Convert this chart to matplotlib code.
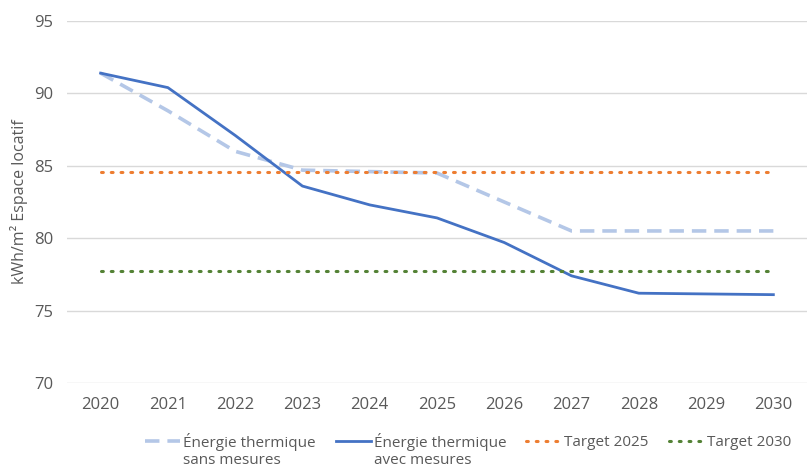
import matplotlib.pyplot as plt
from matplotlib.legend_handler import HandlerLine2D
import numpy as np

years = ["2020", "2021", "2022", "2023", "2024", "2025", "2026", "2027", "2028", "2029", "2030"]
sans_mesures = [91.4, 88.8, 86.0, 84.7, 84.6, 84.5, 82.5, 80.5, 80.5, 80.5, 80.5]
avec_mesures = [91.4, 90.4, 87.1, 83.6, 82.3, 81.4, 79.7, 77.4, 76.2, 76.15, 76.1]
target_2025 = [84.6] * 11
target_2030 = [77.7] * 11

plt.rcParams['font.family'] = ['Open Sans', 'DejaVu Sans']
gray = "#595959"


# legend handle drawn on the first text line instead of the middle
class UpHandler(HandlerLine2D):
    def create_artists(self, legend, orig_handle, xdescent, ydescent, width, height, fontsize, trans):
        arts = super().create_artists(legend, orig_handle, xdescent, ydescent, width, height, fontsize, trans)
        for a in arts:
            a.set_ydata(np.asarray(a.get_ydata()) + 0.62 * fontsize)
        return arts


fig = plt.figure(figsize=(8.07, 4.72), dpi=100)
ax = fig.add_axes([0.083, 0.1886, 0.917, 0.7669])
x = np.arange(len(years))

ax.plot(x, sans_mesures, color="#b4c7e7", lw=2.6, dashes=(4, 2.2), label="Énergie thermique\nsans mesures")
ax.plot(x, avec_mesures, color="#4472c4", lw=2.0, label="Énergie thermique\navec mesures")
ax.plot(x, target_2025, color="#ed7d31", lw=2.2, dashes=(0.6, 2.6), dash_capstyle="round", label="Target 2025\n ")
ax.plot(x, target_2030, color="#548235", lw=2.2, dashes=(0.6, 2.6), dash_capstyle="round", label="Target 2030\n ")

ax.set_xlim(-0.5, 10.5)
ax.set_ylim(70, 95)
ax.set_yticks([70, 75, 80, 85, 90, 95])
ax.set_xticks(x)
ax.set_xticklabels(years)
ax.grid(axis="y", color="#d9d9d9", lw=1)
ax.set_axisbelow(True)
for s in ax.spines.values():
    s.set_visible(False)
ax.tick_params(length=0, labelsize=12, colors=gray, pad=10)
ax.set_ylabel("kWh/m² Espace locatif", fontsize=11.5, color=gray, labelpad=4)

fig.legend(loc="center", bbox_to_anchor=(0.58, 0.045), ncol=4, frameon=False,
           fontsize=11, labelcolor=gray, handlelength=2.3, handletextpad=0.2,
           columnspacing=1.3, handler_map={plt.Line2D: UpHandler()})

fig.savefig("out.png", dpi=100)
